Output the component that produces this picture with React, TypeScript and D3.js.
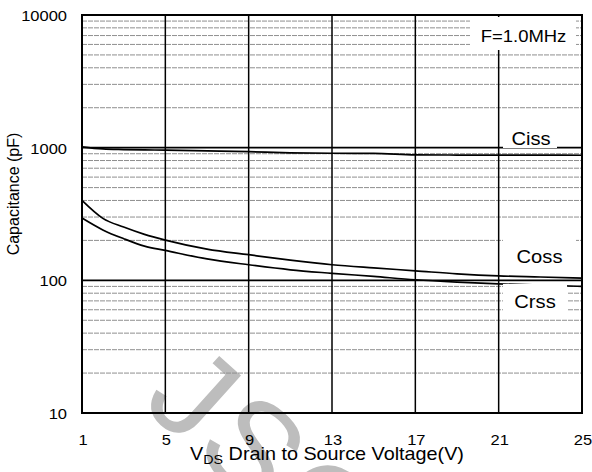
import * as d3 from 'd3';
import { useEffect, useRef } from 'react';

// Drain-source voltage (V) where the curves were read
const voltage = [1, 2, 3, 4, 5, 7, 9, 11, 13, 15, 17, 19, 21, 23, 25];
// Capacitance values (pF)
const ciss = [1015, 978, 968, 962, 958, 945, 932, 915, 908, 906, 883, 880, 879, 878, 877];
const coss = [400, 293, 252, 222, 201, 172, 156, 142, 131, 124, 118, 112, 108, 106, 104];
const crss = [295, 240, 206, 181, 168, 145, 131, 120, 113, 107, 101, 97, 94, 92, 90];

const xTicks = [1, 5, 9, 13, 17, 21, 25];
const yTicks = [10, 100, 1000, 10000];
const seriesNames = ['Ciss', 'Coss', 'Crss'];
const freqLabel = 'F=1.0MHz';

const FONT = "Arial, 'Liberation Sans', sans-serif";

const App = () => {
    const ref = useRef<SVGSVGElement>(null);

    useEffect(() => {
        const width = 592;
        const height = 472;
        const left = 82, right = 582, top = 15, bottom = 413;

        const svg = d3.select(ref.current);
        svg.selectAll('*').remove();
        svg.attr('width', width).attr('height', height);

        svg.append('rect').attr('width', width).attr('height', height).attr('fill', '#fff');

        // Scales
        const x = d3.scaleLinear().domain([1, 25]).range([left, right]);
        const y = d3.scaleLog().domain([10, 10000]).range([bottom, top]);

        // watermark
        svg.append('text')
            .attr('transform', 'translate(140,405) rotate(42)')
            .attr('font-family', FONT)
            .attr('font-size', 130)
            .attr('letter-spacing', 4)
            .attr('fill', '#bdbdbd')
            .text('JSC');

        // minor log gridlines
        const minors: number[] = [];
        [10, 100, 1000].forEach((d) => {
            for (let k = 2; k <= 9; k++) minors.push(d * k);
        });
        svg.append('g')
            .selectAll('line')
            .data(minors)
            .enter()
            .append('line')
            .attr('x1', left)
            .attr('x2', right)
            .attr('y1', (d) => y(d))
            .attr('y2', (d) => y(d))
            .attr('stroke', '#8f8f8f')
            .attr('stroke-width', 1)
            .attr('stroke-dasharray', '5,1');

        // major gridlines (100, 1000)
        svg.append('g')
            .selectAll('line')
            .data([100, 1000])
            .enter()
            .append('line')
            .attr('x1', left)
            .attr('x2', right)
            .attr('y1', (d) => y(d))
            .attr('y2', (d) => y(d))
            .attr('stroke', '#000')
            .attr('stroke-width', 1.6);

        // vertical gridlines
        svg.append('g')
            .selectAll('line')
            .data(xTicks.slice(1, -1))
            .enter()
            .append('line')
            .attr('x1', (d) => x(d))
            .attr('x2', (d) => x(d))
            .attr('y1', top)
            .attr('y2', bottom)
            .attr('stroke', '#000')
            .attr('stroke-width', 1.5);

        // curves
        const line = d3.line<number>()
            .x((_, i) => x(voltage[i]))
            .y((d) => y(d))
            .curve(d3.curveMonotoneX);
        [ciss, coss, crss].forEach((s) => {
            svg.append('path')
                .attr('d', line(s))
                .attr('fill', 'none')
                .attr('stroke', '#000')
                .attr('stroke-width', 1.7);
        });

        // labels with white boxes
        const stretched = (tx: number, ty: number, size: number, txt: string) =>
            svg.append('text')
                .attr('transform', `translate(${tx},${ty}) scale(1.12,1)`)
                .attr('text-anchor', 'middle')
                .attr('font-family', FONT)
                .attr('font-size', size)
                .attr('fill', '#000')
                .text(txt);

        const boxes = [
            { label: freqLabel, bx: 470, by: 17, bw: 106, bh: 33, tx: 523.5, ty: 42, size: 16.5 },
            { label: seriesNames[0], bx: 503, by: 127, bw: 54, bh: 21, tx: 531, ty: 145, size: 18 },
            { label: seriesNames[1], bx: 503, by: 236, bw: 73, bh: 36, tx: 539.5, ty: 263, size: 18 },
            { label: seriesNames[2], bx: 503, by: 284, bw: 64, bh: 29, tx: 535, ty: 308, size: 18 },
        ];
        boxes.forEach((b) => {
            svg.append('rect')
                .attr('x', b.bx).attr('y', b.by)
                .attr('width', b.bw).attr('height', b.bh)
                .attr('fill', '#fff');
            stretched(b.tx, b.ty, b.size, b.label);
        });

        // frame
        svg.append('rect')
            .attr('x', left).attr('y', top)
            .attr('width', right - left).attr('height', bottom - top)
            .attr('fill', 'none')
            .attr('stroke', '#000')
            .attr('stroke-width', 2);

        // y tick labels
        yTicks.forEach((d) => {
            svg.append('text')
                .attr('transform', `translate(67,${y(d) + 6}) scale(1.1,1)`)
                .attr('text-anchor', 'end')
                .attr('font-family', FONT)
                .attr('font-size', 15)
                .text(d);
        });

        // x tick labels
        xTicks.forEach((d) => {
            svg.append('text')
                .attr('transform', `translate(${x(d) + 1},445) scale(1.1,1)`)
                .attr('text-anchor', 'middle')
                .attr('font-family', FONT)
                .attr('font-size', 15)
                .text(d);
        });

        // x axis title
        const xt = svg.append('text')
            .attr('transform', 'translate(327,460) scale(1.1,1)')
            .attr('text-anchor', 'middle')
            .attr('font-family', FONT)
            .attr('font-size', 18);
        xt.append('tspan').text('V');
        xt.append('tspan').attr('font-size', 13).attr('dy', 4).text('DS');
        xt.append('tspan').attr('dy', -4).text(' Drain to Source Voltage(V)');

        // y axis title
        svg.append('text')
            .attr('transform', 'translate(19,194) rotate(-90)')
            .attr('text-anchor', 'middle')
            .attr('font-family', FONT)
            .attr('font-size', 16)
            .text('Capacitance (pF)');
    }, []);

    return <svg ref={ref} style={{ position: 'absolute', left: 0, top: 0 }}></svg>;
};

export default App;
